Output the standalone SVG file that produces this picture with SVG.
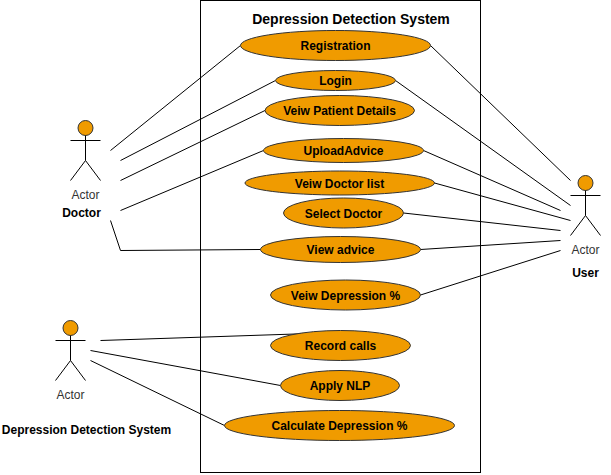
<svg xmlns="http://www.w3.org/2000/svg" width="611" height="475" viewBox="0 0 611 475">
<style>
text{font-family:"Liberation Sans",Arial,sans-serif;font-size:12px;text-anchor:middle;fill:#000}
.b{font-weight:bold}
.a{fill:#333}
.t{font-size:14px}
.u ellipse,.h{fill:#f09b00;stroke:#333;stroke-width:1}
.s{fill:none;stroke:#000;stroke-width:1}
#connectors path{fill:none;stroke:#000;stroke-width:1}
</style>
<rect width="611" height="475" fill="#fff"/>
<g id="system"><rect class="s" x="200.5" y="0.5" width="280" height="472"/><text class="b t" x="351" y="24">Depression Detection System</text></g>
<g id="connectors">
<path d="M110.500 150.500L240.500 45.500"/><path d="M120.500 160.500L275.500 80.500"/><path d="M120.500 180.500L265 110.500"/><path d="M120.500 210.500L263.500 150.500"/><path d="M110.500 220.500L120.500 250.500L260.500 249.500"/>
<path d="M430.500 45.500L570.500 180.500"/><path d="M395.500 80.500L570.500 205.500"/><path d="M423.500 150.500L560.500 210.500"/><path d="M434.500 183L570.500 220.500"/><path d="M403.500 213L560.500 230.500"/><path d="M420.500 249.500L560.500 240.500"/><path d="M420.500 295L560.500 250.500"/>
<path d="M100.500 340.500L310.500 333.500"/><path d="M90.500 350.500L280.500 385.500"/><path d="M90.500 360.500L224.500 425.500"/>
</g>
<g id="uc1" class="u"><ellipse cx="335.500" cy="45.500" rx="95" ry="15"/><text class="b" x="335.500" y="50">Registration</text></g>
<g id="uc2" class="u"><ellipse cx="335.500" cy="80.500" rx="60" ry="10"/><text class="b" x="335.500" y="85">Login</text></g>
<g id="uc3" class="u"><ellipse cx="339.750" cy="110.500" rx="74.750" ry="15"/><text class="b" x="339.500" y="115">Veiw Patient Details</text></g>
<g id="uc4" class="u"><ellipse cx="343.500" cy="150.500" rx="80" ry="12"/><text class="b" x="343.500" y="155">UploadAdvice</text></g>
<g id="uc5" class="u"><ellipse cx="339.750" cy="183" rx="94.750" ry="12"/><text class="b" x="339.500" y="187.500">Veiw Doctor list</text></g>
<g id="uc6" class="u"><ellipse cx="343.500" cy="213" rx="60" ry="15"/><text class="b" x="343.500" y="217.500">Select Doctor</text></g>
<g id="uc7" class="u"><ellipse cx="340.500" cy="249.500" rx="80" ry="13"/><text class="b" x="340.500" y="254">View advice</text></g>
<g id="uc8" class="u"><ellipse cx="345.500" cy="295" rx="75" ry="15"/><text class="b" x="345.500" y="299.500">Veiw Depression %</text></g>
<g id="uc9" class="u"><ellipse cx="340.500" cy="345.500" rx="70" ry="15"/><text class="b" x="340.500" y="350">Record calls</text></g>
<g id="uc10" class="u"><ellipse cx="340" cy="385.500" rx="59.500" ry="15"/><text class="b" x="340" y="390">Apply NLP</text></g>
<g id="uc11" class="u"><ellipse cx="339.500" cy="425.500" rx="115" ry="15"/><text class="b" x="339.500" y="430">Calculate Depression %</text></g>
<g id="doctor"><circle class="h" cx="85.500" cy="128" r="7.500"/><path class="s" d="M85.500 135.500V160.500M70.500 140.500H100.500M70.500 180.500L85.500 160.500L100.500 180.500"/><text class="a" x="85.500" y="199">Actor</text><text class="b" x="81.500" y="217">Doctor</text></g>
<g id="user"><circle class="h" cx="585.500" cy="183" r="7.500"/><path class="s" d="M585.500 190.500V215.500M570.500 195.500H600.500M570.500 235.500L585.500 215.500L600.500 235.500"/><text class="a" x="585.500" y="254">Actor</text><text class="b" x="585.500" y="277">User</text></g>
<g id="dds"><circle class="h" cx="70.500" cy="328" r="7.500"/><path class="s" d="M70.500 335.500V360.500M55.500 340.500H85.500M55.500 380.500L70.500 360.500L85.500 380.500"/><text class="a" x="70.500" y="399">Actor</text><text class="b" x="86.500" y="434">Depression Detection System</text></g>
</svg>
